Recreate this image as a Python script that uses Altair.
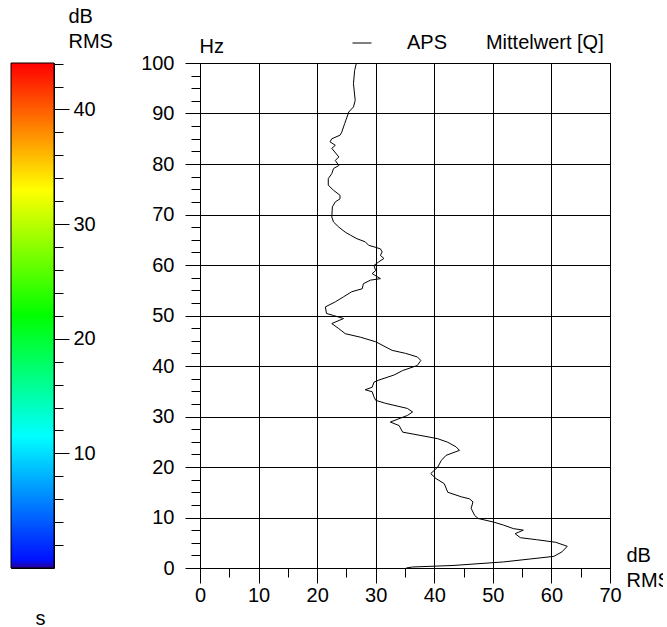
import altair as alt
import pandas as pd

# ---- data -------------------------------------------------------------
freq_hz = [0, 0.2, 0.5, 1.2, 2.3, 3.2, 4.3, 5.1, 5.6, 6.0, 6.8, 7.5, 7.8, 8.5, 9.1, 9.8,
           10.4, 11.8, 13.1, 13.7, 14.1, 15.0, 16.7, 17.7, 18.7, 20.0, 21.3, 22.3, 23.3,
           24.0, 24.9, 25.6, 26.3, 26.9, 28.2, 28.9, 30.2, 30.9, 31.6, 32.6, 33.2, 33.9,
           34.9, 35.3, 35.8, 36.8, 37.2, 38.2, 39.1, 40.1, 41.1, 41.8, 42.5, 43.1, 44.8,
           45.7, 46.4, 47.4, 48.4, 49.4, 50.0, 50.4, 51.7, 52.7, 53.7, 54.7, 55.3, 56.3,
           57.0, 57.3, 58.3, 58.9, 59.9, 60.6, 61.3, 61.9, 62.6, 63.2, 63.6, 63.9, 64.6,
           65.2, 65.9, 66.5, 67.5, 68.5, 69.5, 71.5, 72.5, 73.1, 73.8, 74.8, 75.8, 77.1,
           78.1, 79.1, 79.7, 80.7, 81.4, 83.1, 83.7, 84.4, 85.0, 85.7, 86.3, 88.0, 89.3,
           90.3, 91.3, 92.6, 95.9, 98.5, 100]
level_db = [35.2, 36.3, 43.2, 51.8, 60.4, 61.8, 62.7, 60.7, 57.5, 54.7, 53.8, 55.2, 53.5,
            51.8, 50.1, 47.5, 46.9, 46.3, 46.6, 46.0, 44.6, 42.3, 41.7, 40.3, 39.4, 40.6,
            41.2, 42.0, 44.3, 43.7, 42.3, 40.6, 37.4, 34.6, 34.0, 32.5, 35.4, 36.3, 35.4,
            31.7, 30.0, 29.7, 29.4, 28.2, 29.4, 29.7, 30.5, 33.1, 34.6, 37.1, 37.7, 37.1,
            35.1, 32.8, 30.0, 27.4, 24.8, 23.7, 22.5, 24.5, 22.8, 21.6, 21.4, 23.1, 24.5,
            25.9, 27.7, 27.9, 29.1, 30.8, 29.4, 30.0, 29.7, 30.5, 31.4, 30.8, 31.1, 30.8,
            29.7, 28.8, 28.2, 26.8, 25.7, 24.8, 23.7, 22.8, 22.5, 22.6, 23.1, 23.9, 23.9,
            22.8, 21.9, 21.9, 22.5, 22.8, 23.7, 23.1, 23.7, 22.5, 23.1, 22.2, 22.5, 23.9,
            24.2, 24.7, 25.1, 25.4, 26.2, 26.5, 26.2, 26.4, 26.7]
series_label = "APS" + "\u00a0" * 7 + "Mittelwert [Q]"

x_ticks = [0, 5, 10, 15, 20, 25, 30, 35, 40, 45, 50, 55, 60, 65, 70]
y_ticks = [0, 2.5, 5, 7.5, 10, 12.5, 15, 17.5, 20, 22.5, 25, 27.5, 30, 32.5, 35, 37.5,
           40, 42.5, 45, 47.5, 50, 52.5, 55, 57.5, 60, 62.5, 65, 67.5, 70, 72.5, 75,
           77.5, 80, 82.5, 85, 87.5, 90, 92.5, 95, 97.5, 100]

cbar_min, cbar_max = 0.0, 44.05
cbar_ticks = [2, 4, 6, 8, 10, 12, 14, 16, 18, 20, 22, 24, 26, 28, 30, 32, 34, 36, 38, 40, 42, 44]
cbar_colors = ["#2a0096", "#0010ff", "#00ffff", "#00ff00", "#ffff00", "#ff0000"]
cbar_stops = [0.0, 0.015, 0.261, 0.50, 0.749, 1.0]

FONT = "Liberation Sans"
MAJOR = "datum.value % 10 == 0"

df = pd.DataFrame({"hz": freq_hz, "db": level_db, "idx": list(range(len(freq_hz))),
                   "series": [series_label] * len(freq_hz)})
cbar_df = pd.DataFrame({"lo": [cbar_min], "hi": [cbar_max]})


def major_minor(major, minor):
    return {"condition": {"test": MAJOR, "value": major}, "value": minor}


common_axis = dict(
    labelFont=FONT, labelFontSize=20, labelColor="black",
    tickColor="black", tickWidth=1, domainColor="black",
    titleFont=FONT, titleFontSize=20, titleFontWeight="normal", titleColor="black",
    labelExpr="datum.value % 10 == 0 ? datum.label : ''",
    tickSize=major_minor(15, 9),
)

main = alt.Chart(df).mark_line(strokeWidth=1, color="black").encode(
    x=alt.X("db:Q",
            scale=alt.Scale(domain=[0, 70], nice=False, zero=False),
            axis=alt.Axis(values=x_ticks, grid=True, gridColor="black",
                          gridOpacity=major_minor(1, 0), labelPadding=2,
                          labelFlush=False,
                          title=["dB", "RMS"], titleAngle=0, titleAlign="left",
                          titleBaseline="alphabetic", titleX=426, titleY=-7,
                          titleLineHeight=25, **common_axis)),
    y=alt.Y("hz:Q",
            scale=alt.Scale(domain=[0, 100], nice=False, zero=False),
            axis=alt.Axis(values=y_ticks, grid=True, gridColor="black",
                          gridOpacity=major_minor(1, 0), labelPadding=11,
                          labelFlush=False,
                          title="Hz", titleAngle=0, titleAlign="left",
                          titleBaseline="alphabetic", titleX=-1, titleY=-11,
                          **common_axis)),
    order=alt.Order("idx:Q"),
    stroke=alt.Stroke("series:N", scale=alt.Scale(range=["black"]),
                      legend=alt.Legend(title=None, orient="none", legendX=341, legendY=-30,
                                        symbolType="stroke", symbolSize=361,
                                        symbolStrokeWidth=1, labelFont=FONT,
                                        labelFontSize=20, labelColor="black",
                                        labelOffset=35, labelLimit=0, padding=0)),
).properties(width=410, height=505)

gradient = alt.LinearGradient(
    gradient="linear", x1=0, x2=0, y1=1, y2=0,
    stops=[alt.GradientStop(color=c, offset=o) for c, o in zip(cbar_colors, cbar_stops)],
)

cbar = alt.Chart(cbar_df).mark_rect(fill=gradient, stroke="black", strokeWidth=1).encode(
    y=alt.Y("lo:Q",
            scale=alt.Scale(domain=[cbar_min, cbar_max], nice=False, zero=False),
            axis=alt.Axis(orient="right", values=cbar_ticks, domain=False, labelPadding=4,
                          labelFlush=False,
                          title=["dB", "RMS"], titleAngle=0, titleAlign="left",
                          titleBaseline="alphabetic", titleX=14, titleY=-41,
                          titleLineHeight=25, **common_axis)),
    y2="hi:Q",
).properties(
    width=43, height=505,
    title=alt.TitleParams("s", orient="bottom", frame="group", anchor="middle", dx=8,
                          offset=40, font=FONT, fontSize=20, fontWeight="normal",
                          color="black"),
)

chart = alt.hconcat(cbar, main, spacing=146, bounds="flush").properties(
    padding={"left": 10, "top": 5, "right": -8, "bottom": 0}
).configure_view(stroke="black", strokeWidth=1)

chart.save("out.html", embed_options={"renderer": "svg", "actions": False})
